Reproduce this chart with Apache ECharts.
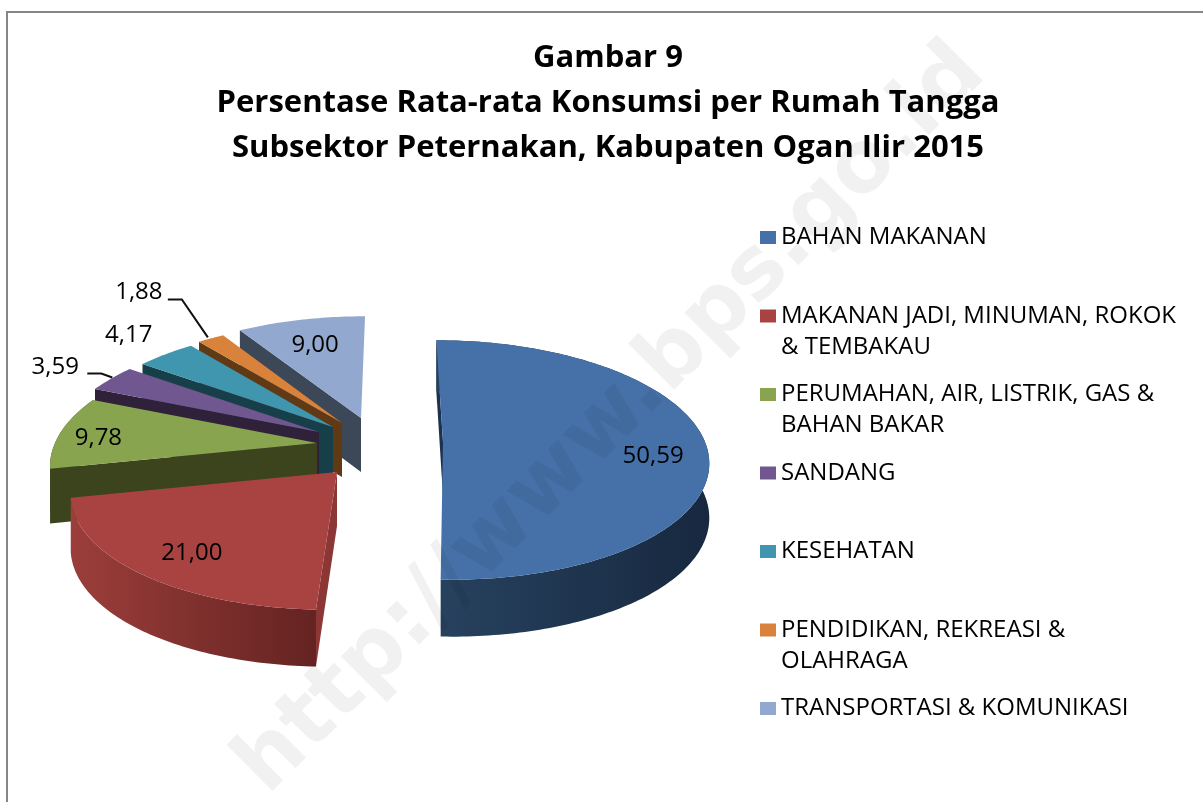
<!DOCTYPE html>
<html><head><meta charset="utf-8">
<style>html,body{margin:0;padding:0;background:#fff}#c{width:1203px;height:802px}</style>
<script src="https://cdn.jsdelivr.net/npm/echarts@6/dist/echarts.min.js"></script>
</head><body><div id="c"></div>
<script>
var categories = [
  'BAHAN MAKANAN',
  'MAKANAN JADI, MINUMAN, ROKOK\n& TEMBAKAU',
  'PERUMAHAN, AIR, LISTRIK, GAS &\nBAHAN BAKAR',
  'SANDANG',
  'KESEHATAN',
  'PENDIDIKAN, REKREASI &\nOLAHRAGA',
  'TRANSPORTASI & KOMUNIKASI'
];
var values = [50.59, 21.00, 9.78, 3.59, 4.17, 1.88, 9.00];
var topColors = ['#4571A8', '#A84341', '#89A44E', '#71578F', '#4096AE', '#D8823B', '#93A8CE'];
var faceColors = ['#1C3350', '#8C3735', '#3B441C', '#2E2139', '#163F4A', '#5F3A15', '#3C4757'];
var wallStops = [['#27425F', '#17283F'], ['#9C3E3B', '#642321'], ['#3B441C', '#3B441C'], ['#2E2139', '#2E2139'], ['#163F4A', '#163F4A'], ['#5F3A15', '#5F3A15'], ['#3C4757', '#3C4757']];

// Exploded-slice apex on the canvas, and the label placement per slice.
var apex = [[443, 442], [337, 472], [317, 443], [319, 432], [333, 427], [342, 423], [361, 418]];
var labelStyle = [
  {r: .8,  dx: 0,   dy: 12},
  {r: .75, dx: -2,  dy: 7},
  {r: .8,  dx: -13, dy: 4},
  {r: 1,   dx: -56, dy: -11, leader: [[1, -1], [-10, -5], [-24, -5]]},
  {r: 1,   dx: -37, dy: -19},
  {r: 1,   dx: -72, dy: -46, leader: [[-3, -1], [-29, -39], [-43, -39]]},
  {r: .6,  dx: -8,  dy: -11}
];
var RX = 262, RY = 117, K = 0.15, VANISH_X = 392;
var total = values.reduce(function (a, b) { return a + b; }, 0);
var starts = [];
values.reduce(function (acc, v, i) { starts[i] = acc; return acc + v; }, 0);

function project(i, deg, r) {
  var t = deg * Math.PI / 180, sx = Math.sin(t) * r, c = -Math.cos(t) * r;
  var s = 1 / (1 - K * c);
  return [VANISH_X + (apex[i][0] - VANISH_X + RX * sx) * s, apex[i][1] + RY * c * s, c];
}
function depth(c) { return 54 + 3 * c; }

function renderSlice(i) {
  var a0 = starts[i] / total * 360, a1 = (starts[i] + values[i]) / total * 360;
  var arc = [], n = Math.max(4, Math.ceil(a1 - a0));
  for (var k = 0; k <= n; k++) arc.push(project(i, a0 + (a1 - a0) * k / n, 1));
  var ap = project(i, 0, 0);
  var lower = function (p) { return [p[0], p[1] + depth(p[2])]; };
  var plain = function (p) { return [p[0], p[1]]; };
  var start = arc[0];
  var children = [
    {type: 'polygon', shape: {points: [plain(ap), plain(start), lower(start), lower(ap)]},
     style: {fill: faceColors[i]}}
  ];
  // The outer wall only faces the viewer on the near half of the pie.
  if (project(i, (a0 + a1) / 2, 1)[2] > -0.3) {
    children.push({type: 'polygon', shape: {points: arc.map(plain).concat(arc.slice().reverse().map(lower))},
      style: {fill: new echarts.graphic.LinearGradient(0, 0, 1, 0, [
        {offset: 0, color: wallStops[i][0]}, {offset: 1, color: wallStops[i][1]}])}});
  }
  children.push({type: 'polygon', shape: {points: [plain(ap)].concat(arc.map(plain))},
    style: {fill: topColors[i]}});
  var ls = labelStyle[i];
  var m = project(i, (a0 + a1) / 2, ls.r);
  if (ls.leader) {
    children.push({type: 'polyline', z2: 20,
      shape: {points: ls.leader.map(function (o) { return [m[0] + o[0], m[1] + o[1]]; })},
      style: {stroke: '#111', lineWidth: 2, fill: null}});
  }
  children.push({type: 'text', z2: 21, style: {
    text: values[i].toFixed(2).replace('.', ','),
    x: m[0] + ls.dx, y: m[1] + ls.dy, align: 'center', verticalAlign: 'middle',
    fontFamily: 'Open Sans', fontSize: 24, fill: '#000'}});
  return {type: 'group', children: children};
}

var chart = echarts.init(document.getElementById('c'), null, {renderer: 'canvas'});
var paint = [6, 5, 4, 3, 2, 1, 0];
chart.setOption({
  animation: false,
  backgroundColor: '#fff',
  title: {
    text: 'Gambar 9\nPersentase Rata-rata Konsumsi per Rumah Tangga\nSubsektor Peternakan, Kabupaten Ogan Ilir 2015',
    left: 603, top: 31, textAlign: 'center',
    textStyle: {fontFamily: 'Open Sans', fontWeight: 'bold', fontSize: 31, lineHeight: 45, color: '#000'}
  },
  legend: {
    orient: 'vertical', left: 760, top: 191, itemWidth: 16, itemHeight: 13, itemGap: -14.5,
    padding: 0, selectedMode: false, icon: 'rect',
    textStyle: {fontFamily: 'Open Sans', fontSize: 24, lineHeight: 31, color: '#000'},
    // A blank first line keeps the swatch level with the first line of text.
    formatter: function (name) { return '\n' + name + (name.indexOf('\n') >= 0 ? '' : '\n '); },
    data: categories
  },
  graphic: [
    {type: 'rect', z: -1, silent: true, shape: {x: 7, y: 12, width: 1400, height: 1000},
     style: {fill: null, stroke: '#868686', lineWidth: 2}},
    {type: 'text', z: 100, silent: true, x: 612, y: 420, rotation: Math.PI / 4,
     style: {text: 'http://www.bps.go.id', align: 'center', verticalAlign: 'middle',
       fontFamily: 'DejaVu Sans', fontWeight: 'bold', fontSize: 86, fill: 'rgba(0,0,0,0.055)'}}
  ],
  series: categories.map(function (name, i) {
    return {
      type: 'custom', name: name, coordinateSystem: 'none', silent: true,
      z: 2 + paint.indexOf(i),
      itemStyle: {color: topColors[i]},
      data: [[values[i]]],
      renderItem: function () { return renderSlice(i); }
    };
  })
});
</script></body></html>
